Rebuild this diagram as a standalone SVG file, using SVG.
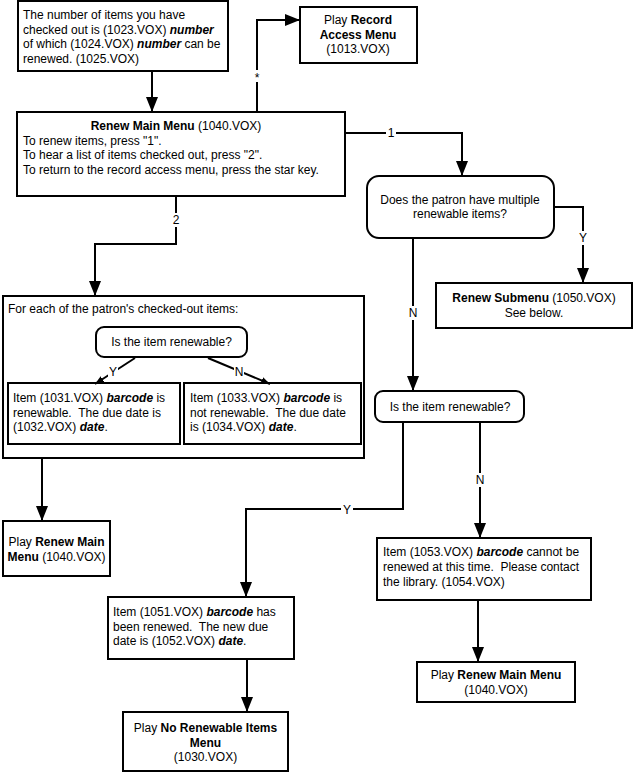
<svg xmlns="http://www.w3.org/2000/svg" width="633" height="773" viewBox="0 0 633 773">
<defs>
<style>
text{font-family:"Liberation Sans",Arial,sans-serif;font-size:12px;fill:#000;white-space:pre}
.c{text-anchor:middle}
.b{font-weight:bold}
.bi{font-weight:bold;font-style:italic}
.box{fill:#fff;stroke:#000;stroke-width:2}
.ln{fill:none;stroke:#000;stroke-width:2}
.lb{fill:#fff}
</style>
<marker id="ah" viewBox="0 0 15 12" refX="15" refY="6" markerWidth="15" markerHeight="12" markerUnits="userSpaceOnUse" orient="auto"><path d="M0,0 L15,6 L0,12 z" fill="#000"/></marker>
<marker id="as" viewBox="0 0 9 7" refX="9" refY="3.5" markerWidth="9" markerHeight="7" markerUnits="userSpaceOnUse" orient="auto"><path d="M0,0 L9,3.5 L0,7 z" fill="#000"/></marker>
</defs>
<g id="n-count">
<rect class="box" x="18" y="1" width="210" height="70"/>
<text x="23" y="19">The number of items you have</text>
<text x="23" y="33.5">checked out is (1023.VOX) <tspan class="bi">number</tspan></text>
<text x="23" y="48">of which (1024.VOX) <tspan class="bi">number</tspan> can be</text>
<text x="23" y="62.5">renewed. (1025.VOX)</text>
</g>
<g id="n-record">
<rect class="box" x="300" y="7" width="117" height="56"/>
<text class="c" x="358" y="24">Play <tspan class="b">Record</tspan></text>
<text class="c b" x="358" y="38.5">Access Menu</text>
<text class="c" x="358" y="53">(1013.VOX)</text>
</g>
<g id="n-main">
<rect class="box" x="17" y="112" width="328" height="84"/>
<text class="c" x="176" y="130"><tspan class="b">Renew Main Menu</tspan> (1040.VOX)</text>
<text x="23" y="144.5">To renew items, press "1".</text>
<text x="23" y="159">To hear a list of items checked out, press "2".</text>
<text x="23" y="173.5">To return to the record access menu, press the star key.</text>
</g>
<g id="n-multi">
<rect class="box" x="367" y="176" width="187" height="62" rx="12"/>
<text class="c" x="460" y="204">Does the patron have multiple</text>
<text class="c" x="460" y="218">renewable items?</text>
</g>
<g id="n-submenu">
<rect class="box" x="436" y="283" width="196" height="45"/>
<text class="c" x="534" y="302"><tspan class="b">Renew Submenu</tspan> (1050.VOX)</text>
<text class="c" x="534" y="317">See below.</text>
</g>
<g id="n-isrenew2">
<rect class="box" x="375" y="391" width="149" height="31" rx="8"/>
<text class="c" x="450" y="411">Is the item renewable?</text>
</g>
<g id="n-1053">
<rect class="box" x="377" y="538" width="214" height="62"/>
<text x="383" y="556">Item (1053.VOX) <tspan class="bi">barcode</tspan> cannot be</text>
<text x="383" y="571">renewed at this time.  Please contact</text>
<text x="383" y="586">the library. (1054.VOX)</text>
</g>
<g id="n-main3">
<rect class="box" x="417" y="662" width="158" height="40"/>
<text class="c" x="496" y="679">Play <tspan class="b">Renew Main Menu</tspan></text>
<text class="c" x="496" y="694">(1040.VOX)</text>
</g>
<g id="n-foreach">
<rect class="box" x="3" y="296" width="361" height="162"/>
<text x="8" y="313">For each of the patron's checked-out items:</text>
</g>
<g id="n-isrenew1">
<rect class="box" x="96" y="327" width="151" height="30" rx="8"/>
<text class="c" x="171.5" y="346">Is the item renewable?</text>
</g>
<g id="n-1031">
<rect class="box" x="8" y="383" width="172" height="61"/>
<text x="13" y="402">Item (1031.VOX) <tspan class="bi">barcode</tspan> is</text>
<text x="13" y="416.5">renewable.  The due date is</text>
<text x="13" y="431">(1032.VOX) <tspan class="bi">date</tspan>.</text>
</g>
<g id="n-1033">
<rect class="box" x="184" y="383" width="177" height="61"/>
<text x="190" y="402">Item (1033.VOX) <tspan class="bi">barcode</tspan> is</text>
<text x="190" y="416.5">not renewable.  The due date</text>
<text x="190" y="431">is (1034.VOX) <tspan class="bi">date</tspan>.</text>
</g>
<g id="n-main2">
<rect class="box" x="3" y="521" width="107" height="55"/>
<text class="c" x="56.5" y="546">Play <tspan class="b">Renew Main</tspan></text>
<text class="c" x="56.5" y="561"><tspan class="b">Menu</tspan> (1040.VOX)</text>
</g>
<g id="n-1051">
<rect class="box" x="108" y="597" width="186" height="62"/>
<text x="113" y="616">Item (1051.VOX) <tspan class="bi">barcode</tspan> has</text>
<text x="113" y="630.5">been renewed.  The new due</text>
<text x="113" y="645">date is (1052.VOX) <tspan class="bi">date</tspan>.</text>
</g>
<g id="n-norenew">
<rect class="box" x="123" y="712" width="165" height="59"/>
<text class="c" x="205.5" y="732">Play <tspan class="b">No Renewable Items</tspan></text>
<text class="c b" x="205.5" y="747">Menu</text>
<text class="c" x="205.5" y="761">(1030.VOX)</text>
</g>
<g id="connectors">
<path class="ln" d="M152,72 V112" marker-end="url(#ah)"/>
<path class="ln" d="M257,111 V20 H300" marker-end="url(#ah)"/>
<path class="ln" d="M346,133 H462 V176" marker-end="url(#ah)"/>
<path class="ln" d="M555,207 H583 V283" marker-end="url(#ah)"/>
<path class="ln" d="M413,239 V391" marker-end="url(#ah)"/>
<path class="ln" d="M403,423 V509 H246 V597" marker-end="url(#ah)"/>
<path class="ln" d="M480,423 V538" marker-end="url(#ah)"/>
<path class="ln" d="M478,601 V662" marker-end="url(#ah)"/>
<path class="ln" d="M176,197 V244 H95 V296" marker-end="url(#ah)"/>
<path class="ln" d="M135,358 L95,384" marker-end="url(#as)"/>
<path class="ln" d="M208,358 L270,384" marker-end="url(#as)"/>
<path class="ln" d="M42,459 V521" marker-end="url(#ah)"/>
<path class="ln" d="M247,660 V712" marker-end="url(#ah)"/>
<rect class="lb" x="253" y="70" width="8" height="12"/><text class="c" x="257" y="82">*</text>
<rect class="lb" x="386" y="126" width="10" height="14"/><text class="c" x="391" y="137">1</text>
<rect class="lb" x="171" y="213" width="10" height="14"/><text class="c" x="176" y="224">2</text>
<rect class="lb" x="578" y="231" width="10" height="14"/><text class="c" x="583" y="242">Y</text>
<rect class="lb" x="408" y="306" width="10" height="14"/><text class="c" x="413" y="317">N</text>
<rect class="lb" x="475" y="473" width="10" height="14"/><text class="c" x="480" y="484">N</text>
<rect class="lb" x="341" y="503" width="12" height="14"/><text class="c" x="347" y="514">Y</text>
<rect class="lb" x="108" y="366" width="10" height="12"/><text class="c" x="113" y="376">Y</text>
<rect class="lb" x="234" y="366" width="10" height="12"/><text class="c" x="239" y="376">N</text>
</g>
</svg>
